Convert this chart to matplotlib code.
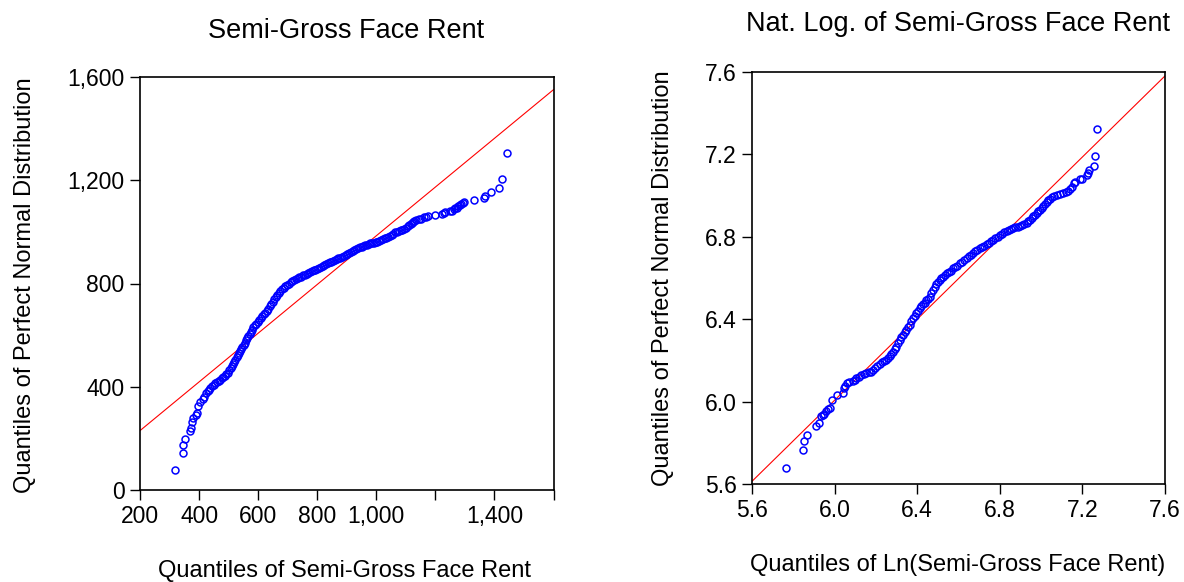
import matplotlib
matplotlib.use("Agg")
import matplotlib.pyplot as plt

plt.rcParams['font.family'] = ['Liberation Sans', 'DejaVu Sans']

# ---- left panel: Semi-Gross Face Rent (data quantile, normal quantile) ----
rent_q = [317, 345, 347, 352, 369, 372, 377, 381, 388, 392, 396, 404, 413, 417,
          424, 429, 433, 438, 444, 449, 455, 460, 466, 472, 477, 482, 487, 492,
          497, 502, 507, 511, 515, 519, 523, 527, 531, 535, 539, 543, 547, 551,
          555, 559, 563, 567, 571, 575, 579, 584, 589, 594, 599, 604, 609, 614,
          619, 624, 629, 634, 639, 644, 649, 654, 659, 664, 669, 674, 680, 686,
          692, 698, 704, 710, 716, 722, 728, 734, 740, 746, 752, 758, 764, 770,
          776, 782, 788, 794, 800, 806, 812, 818, 824, 830, 836, 842, 848, 854,
          860, 866, 872, 878, 884, 890, 896, 902, 908, 914, 920, 926, 932, 938,
          944, 950, 956, 962, 968, 974, 980, 986, 992, 998, 1004, 1010, 1016,
          1022, 1028, 1034, 1040, 1046, 1052, 1058, 1064, 1070, 1076, 1082, 1088,
          1094, 1100, 1106, 1111, 1116, 1121, 1125, 1129, 1136, 1145, 1152, 1160,
          1167, 1176, 1198, 1223, 1230, 1233, 1250, 1258, 1264, 1268, 1273, 1276,
          1282, 1288, 1293, 1296, 1332, 1364, 1369, 1389, 1417, 1426, 1443]
rent_norm = [79, 142, 175, 197, 230, 240, 265, 278, 291, 298, 324, 340, 352, 362,
             375, 384, 389, 395, 402, 408, 414, 417, 421, 427, 432, 436, 440, 448,
             455, 463, 472, 481, 489, 497, 505, 514, 522, 530, 538, 546, 554, 561,
             570, 580, 590, 598, 606, 614, 621, 630, 638, 645, 651, 658, 666, 673,
             680, 687, 695, 703, 712, 721, 730, 739, 748, 756, 764, 770, 777, 783,
             789, 794, 799, 804, 809, 813, 817, 820, 824, 827, 831, 834, 838, 841,
             845, 848, 851, 854, 857, 860, 864, 867, 871, 874, 878, 882, 885, 888,
             891, 894, 897, 900, 903, 907, 911, 915, 919, 923, 926, 929, 933, 937,
             940, 943, 946, 948, 950, 952, 955, 957, 958, 960, 962, 965, 968,
             971, 975, 978, 982, 985, 989, 993, 998, 1001, 1003, 1006, 1008,
             1011, 1016, 1022, 1026, 1031, 1036, 1040, 1043, 1047, 1050, 1051, 1056,
             1058, 1061, 1066, 1070, 1075, 1077, 1081, 1082, 1087, 1091, 1094, 1099,
             1104, 1107, 1112, 1116, 1122, 1132, 1140, 1153, 1169, 1206, 1304]
rent_fit_x = [200, 1600]
rent_fit_y = [230, 1551]

# ---- right panel: log rent ----
lrent_q = [5.765, 5.849, 5.854, 5.867, 5.911, 5.924, 5.935, 5.944, 5.951, 5.959,
           5.966, 5.979, 5.988, 6.011, 6.040, 6.045, 6.052, 6.060, 6.072, 6.089,
           6.097, 6.105, 6.117, 6.129, 6.141, 6.153, 6.165, 6.178, 6.186, 6.194,
           6.206, 6.218, 6.229, 6.240, 6.250, 6.258, 6.267, 6.275, 6.283, 6.291,
           6.299, 6.307, 6.315, 6.323, 6.331, 6.339, 6.347, 6.355, 6.364, 6.372,
           6.380, 6.388, 6.396, 6.404, 6.412, 6.420, 6.428, 6.437, 6.445, 6.453,
           6.461, 6.469, 6.477, 6.485, 6.493, 6.501, 6.509, 6.517, 6.525, 6.533,
           6.542, 6.552, 6.563, 6.574, 6.584, 6.595, 6.606, 6.617, 6.628, 6.639,
           6.650, 6.660, 6.671, 6.682, 6.692, 6.703, 6.714, 6.725, 6.736, 6.747,
           6.757, 6.768, 6.779, 6.790, 6.801, 6.812, 6.822, 6.833, 6.844, 6.854,
           6.865, 6.876, 6.887, 6.898, 6.909, 6.919, 6.930, 6.938, 6.946, 6.954,
           6.962, 6.971, 6.979, 6.987, 6.995, 7.003, 7.011, 7.019, 7.027, 7.035,
           7.043, 7.051, 7.064, 7.076, 7.092, 7.108, 7.120, 7.132, 7.140, 7.148,
           7.157, 7.165, 7.189, 7.197, 7.221, 7.226, 7.234, 7.254, 7.262, 7.273]
lrent_norm = [5.678, 5.763, 5.810, 5.836, 5.880, 5.896, 5.931, 5.937, 5.941, 5.955,
              5.962, 5.968, 6.009, 6.033, 6.044, 6.065, 6.078, 6.090, 6.093, 6.098,
              6.106, 6.114, 6.121, 6.130, 6.134, 6.138, 6.142, 6.146, 6.154, 6.162,
              6.173, 6.183, 6.192, 6.199, 6.203, 6.211, 6.219, 6.231, 6.243, 6.255,
              6.267, 6.283, 6.300, 6.312, 6.324, 6.336, 6.348, 6.360, 6.372, 6.389,
              6.405, 6.417, 6.429, 6.441, 6.453, 6.465, 6.474, 6.481, 6.491, 6.500,
              6.510, 6.526, 6.542, 6.557, 6.571, 6.580, 6.590, 6.599, 6.607, 6.615,
              6.623, 6.629, 6.635, 6.647, 6.653, 6.659, 6.671, 6.680, 6.688, 6.696,
              6.705, 6.714, 6.723, 6.730, 6.737, 6.744, 6.750, 6.757, 6.763, 6.770,
              6.778, 6.785, 6.792, 6.800, 6.808, 6.815, 6.822, 6.828, 6.833, 6.838,
              6.842, 6.846, 6.850, 6.854, 6.858, 6.863, 6.868, 6.875, 6.883, 6.890,
              6.899, 6.908, 6.917, 6.924, 6.931, 6.938, 6.948, 6.959, 6.970, 6.977,
              6.984, 6.991, 6.998, 7.003, 7.007, 7.011, 7.017, 7.022, 7.032, 7.043,
              7.060, 7.067, 7.080, 7.083, 7.100, 7.110, 7.124, 7.143, 7.193, 7.323]
lrent_fit_x = [5.6, 7.6]
lrent_fit_y = [5.613, 7.581]

W, H = 1184, 582
fig = plt.figure(figsize=(W / 100, H / 100), dpi=100)


def px_axes(x0, y0, x1, y1):
    return fig.add_axes([x0 / W, 1 - y1 / H, (x1 - x0) / W, (y1 - y0) / H])


def style(ax):
    for s in ax.spines.values():
        s.set_linewidth(1.2)
    ax.tick_params(direction='out', length=7, width=1.0, labelsize=16.5, pad=4)


ax1 = px_axes(140, 77, 553.5, 490)
ax1.plot(rent_fit_x, rent_fit_y, color='#FF0000', lw=0.8)
ax1.plot(rent_q, rent_norm, 'o', mfc='none', mec='#0000FF', ms=5.0, mew=1.1)
ax1.set_xlim(200, 1600)
ax1.set_ylim(0, 1600)
ax1.set_xticks([200, 400, 600, 800, 1000, 1200, 1400, 1600])
ax1.set_xticklabels(['200', '400', '600', '800', '1,000', '', '1,400', ''])
ax1.set_yticks([0, 400, 800, 1200, 1600])
ax1.set_yticklabels(['0', '400', '800', '1,200', '1,600'])
style(ax1)

ax2 = px_axes(752, 72, 1165, 484)
ax2.plot(lrent_fit_x, lrent_fit_y, color='#FF0000', lw=0.8)
ax2.plot(lrent_q, lrent_norm, 'o', mfc='none', mec='#0000FF', ms=5.0, mew=1.1)
ax2.set_xlim(5.6, 7.6)
ax2.set_ylim(5.6, 7.6)
ax2.set_xticks([5.6, 6.0, 6.4, 6.8, 7.2, 7.6])
ax2.set_yticks([5.6, 6.0, 6.4, 6.8, 7.2, 7.6])
ax2.xaxis.set_major_formatter(matplotlib.ticker.FormatStrFormatter('%.1f'))
ax2.yaxis.set_major_formatter(matplotlib.ticker.FormatStrFormatter('%.1f'))
style(ax2)

# titles and axis labels, placed in pixel positions
def ftext(x, y, s, size, rot=0):
    fig.text(x / W, 1 - y / H, s, fontsize=size, ha='center', va='center', rotation=rot)

ftext(346, 31, 'Semi-Gross Face Rent', 19.5)
ftext(958, 24, 'Nat. Log. of Semi-Gross Face Rent', 19.5)
ftext(345, 571, 'Quantiles of Semi-Gross Face Rent', 17)
ftext(958, 565, 'Quantiles of Ln(Semi-Gross Face Rent)', 17)
ftext(25, 285, 'Quantiles of Perfect Normal Distribution', 17, 90)
ftext(663, 278, 'Quantiles of Perfect Normal Distribution', 17, 90)

fig.savefig('out.png', dpi=100)
